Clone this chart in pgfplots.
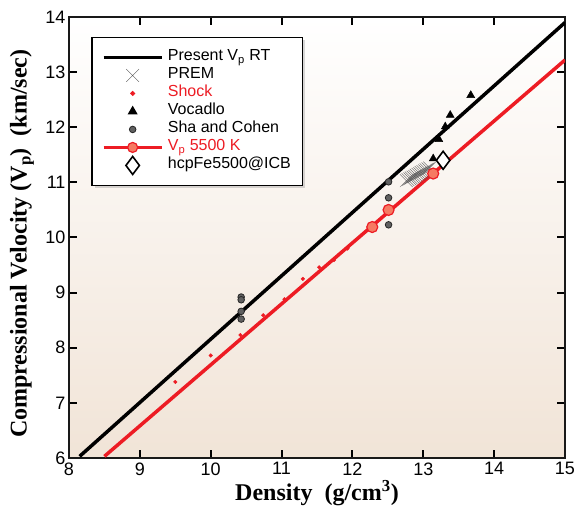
\documentclass[border=0pt]{standalone}
\usepackage{pgfplots}
\pgfplotsset{compat=1.18}
\usepackage{fontspec}
\setmainfont{Liberation Sans}
\newfontfamily\tnr{Liberation Serif}
\usetikzlibrary{shadows}
\makeatletter
\tikzset{nopreact/.code={\def\tikz@preactions{}}}
\makeatother
\definecolor{bgbot}{RGB}{241,228,215}
\definecolor{myred}{RGB}{237,28,36}
\definecolor{ballfill}{RGB}{246,122,98}
\begin{document}
\begin{tikzpicture}
\begin{axis}[
  scale only axis, width=496pt, height=441pt,
  xmin=8, xmax=15, ymin=6, ymax=14,
  xtick={8,...,15}, ytick={6,...,14},
  tick align=inside, major tick length=8pt,
  every tick/.style={black, line width=2pt},
  axis line style={line width=2.2pt, black!90},
  /pgf/number format/assume math mode=true,
  ticklabel style={font=\fontsize{18}{18}\selectfont},
  xticklabel style={yshift=-1pt},
  axis background/.style={top color=white, bottom color=bgbot},
  xlabel={\tnr\bfseries Density\ \ (g/cm\textsuperscript{3})},
  ylabel={\tnr\bfseries Compressional Velocity (V\textsubscript{p})\ \ (km/sec)},
  label style={font=\fontsize{24}{24}\selectfont},
  xlabel style={at={(axis description cs:0.5,-0.079)}, anchor=center},
  ylabel style={at={(axis description cs:-0.095,0.486)}, anchor=center, rotate=0},
  legend cell align=left,
  legend image code/.code={\draw[nopreact,mark repeat=2,mark phase=2,#1] plot coordinates {(0pt,0pt) (29pt,0pt) (58pt,0pt)};},
  legend style={at={(0.045,0.955)}, anchor=north west, draw=black, line width=1.2pt, fill=white,
    drop shadow={shadow xshift=3pt, shadow yshift=-3pt, opacity=0.3},
    font=\fontsize{16}{16}\selectfont, row sep=0pt, column sep=3pt, inner xsep=10pt, inner ysep=11pt,
    nodes={inner sep=1.5pt, text height=11pt, text depth=4pt}},
]
% Present Vp RT
\addplot[black, line width=3.5pt,
  legend image code/.code={\draw[nopreact, black, line width=3.5pt] (0pt,0pt) -- (58pt,0pt);}]
  coordinates {(8.15,6.03) (15,13.9)};
\addlegendentry{Present V\textsubscript{p} RT}
% PREM
\addplot[only marks, mark=x, mark size=9pt, gray!65!black, mark options={line width=0.35pt}]
  coordinates {(12.76,11.03) (12.785,11.05) (12.81,11.065) (12.83,11.08) (12.855,11.095) (12.88,11.11) (12.90,11.13) (12.925,11.145) (12.95,11.16) (12.97,11.18) (12.995,11.195) (13.02,11.21) (13.04,11.23) (13.065,11.245) (13.09,11.26)};
\addlegendentry{PREM}
% Shock
\addplot[only marks, mark=*, mark size=1.8pt, myred, mark options={draw=myred, fill=myred}]
  coordinates {(9.50,7.38) (10.00,7.86) (10.42,8.23) (10.74,8.59) (11.04,8.88) (11.30,9.25) (11.53,9.46) (11.74,9.59) (11.93,9.80)};
\addlegendentry{\textcolor{myred}{Shock}}
% Vocadlo
\addplot[only marks, mark=triangle*, mark size=4.6pt, black]
  coordinates {(13.14,11.43) (13.22,11.78) (13.31,12.01) (13.38,12.22) (13.67,12.58)};
\addlegendentry{Vocadlo}
% Sha and Cohen
\addplot[only marks, mark=*, mark size=3.3pt, mark options={draw=black!85, fill=gray!75!black, line width=0.8pt}]
  coordinates {(10.43,8.92) (10.43,8.87) (10.43,8.66) (10.43,8.52) (12.51,11.01) (12.51,10.72) (12.51,10.47) (12.51,10.23)};
\addlegendentry{Sha and Cohen}
% Vp 5500 K
\addplot[myred, line width=3.5pt,
  legend image code/.code={\draw[nopreact, myred, line width=3.5pt] (0pt,0pt) -- (58pt,0pt); \filldraw[nopreact, draw=myred, fill=ballfill, line width=1.2pt] (29pt,0pt) circle (5pt);}]
  coordinates {(8.5,6.03) (15,13.22)};
\addlegendentry{\textcolor{myred}{V\textsubscript{p} 5500 K}}
\addplot[forget plot, only marks, mark=*, mark size=5.5pt, mark options={draw=myred, fill=ballfill, line width=1.2pt}]
  coordinates {(12.28,10.19) (12.51,10.50) (13.14,11.16)};
% hcpFe5500@ICB
\addplot[only marks, mark=diamond*, mark size=9pt, black, mark options={fill=white, line width=1.6pt}]
  coordinates {(13.28,11.40)};
\addlegendentry{hcpFe5500@ICB}
\end{axis}
\pgfresetboundingbox
\path[use as bounding box] ([shift={(-69pt,-54pt)}]current axis.south west) rectangle ([shift={(17pt,17pt)}]current axis.north east);
\end{tikzpicture}
\end{document}
